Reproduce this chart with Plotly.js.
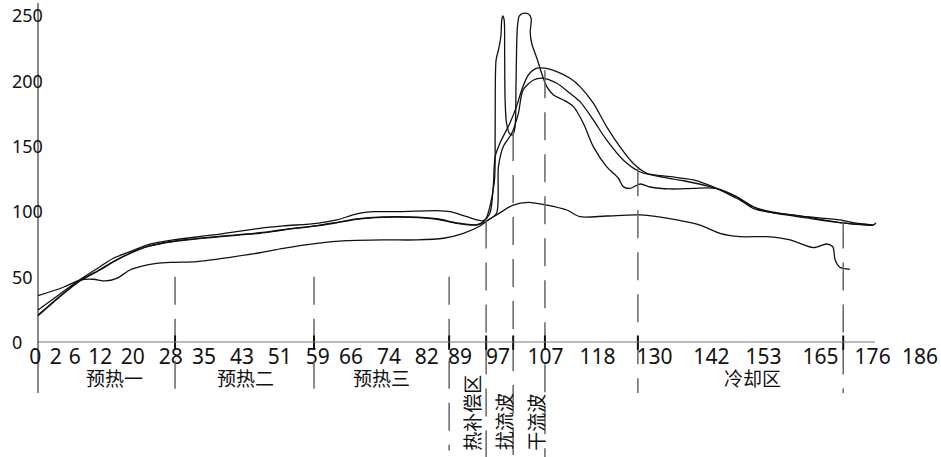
<!DOCTYPE html>
<html><head><meta charset="utf-8">
<script src="https://cdn.plot.ly/plotly-3.0.1.min.js"></script>
<style>html,body{margin:0;padding:0;background:#fff}#chart{width:941px;height:457px}</style>
</head><body><div id="chart"></div>
<script>
// Tick labels
const xTickVals = [0,2,6,12,20,28,35,43,51,59,66,74,82,89,97,107,118,130,142,153,165,176,186];
const yTickVals = [0,50,100,150,200,250];

// Curve A (lower profile)
const aX = [0,5.34,8.86,11.66,14.13,16.6,19.4,21.5,25.0,28.5,33.5,40.5,46.8,51.7,58.8,65.1,72.8,79.9,85.5,89.7,93.2,94.9,96.7,100.2,103.4,107.3,111.5,114.3,119.9,127.0,134.7,139.6,143.8,148.0,153.7,158.6,163.5,166.3,167.6,168.1,169.1,171.2];
const aY = [35.4,41.9,47.4,48.0,46.7,48.7,55.1,57.6,60.2,61.0,61.5,64.8,68.3,71.7,75.5,77.5,78.1,78.1,79.4,83.2,88.8,93.4,97.2,104.8,106.9,104.8,101.0,95.9,96.4,97.2,93.4,89.5,83.2,80.6,80.6,78.1,72.2,75.0,72.9,62.8,57.2,55.6];

// Curve B (upper smooth profile)
const bX = [0,4.43,8.86,13.07,15.88,19.4,22.9,28.5,37.0,46.8,51.7,58.8,63.0,67.2,70.7,76.3,84.1,86.9,90.4,93.9,95.3,96.0,96.4,97.4,99.5,100.9,102.0,103.4,105.2,106.9,109.4,112.2,114.3,117.1,119.9,122.7,125.5,128.4,133.3,138.2,143.1,147.3,150.8,155.0,162.1,169.1,171.9,176.1];
const bY = [24.5,36.2,47.8,57.6,64.1,69.1,74.2,78.1,81.9,87.0,88.8,90.8,93.4,98.0,99.7,99.7,100.5,99.7,95.9,92.8,98.7,118.9,141.8,152.1,167.4,180.1,192.9,204.3,209.5,209.5,206.9,201.8,195.4,182.7,164.8,149.5,136.8,129.1,126.5,124.0,117.6,110.0,103.5,99.3,95.9,93.4,91.3,89.5];

// Curve C (second smooth profile)
const cX = [0,4.43,8.86,13.07,15.88,19.4,22.9,28.5,37.0,46.8,51.7,58.8,62.3,67.2,72.8,78.4,84.1,88.3,92.5,95.0,96.7,97.1,98.1,99.9,101.3,102.3,104.5,106.6,109.4,112.2,114.3,117.1,119.9,123.4,126.9,131.1,136.1,141.7,146.6,150.8,153.7,162.1,169.1,176.1];
const cY = [20.1,34.1,46.7,55.1,61.2,67.7,72.7,76.8,80.1,83.2,85.7,88.8,90.8,93.9,95.4,95.4,93.9,90.8,89.5,93.4,98.5,134.2,149.5,159.7,175.0,192.9,200.5,201.8,198.0,190.3,183.9,169.9,154.6,139.3,130.3,126.5,123.4,118.8,112.5,102.3,99.7,95.7,91.3,89.5];

// Curve S (wave-solder double spike)
const sX = [0,4.43,8.86,13.07,15.88,19.4,22.9,28.5,37.0,46.8,51.7,58.8,62.3,67.2,72.8,78.4,84.1,88.3,92.5,94.3,96.2,96.4,96.6,97.1,97.6,97.8,98.0,98.3,98.4,98.5,98.8,99.4,100.1,100.6,100.8,101.1,101.5,102.3,103.4,104.0,103.9,103.8,104.1,105.2,106.2,107.3,108.7,110.8,112.9,115.0,117.1,119.9,122.4,123.4,124.9,127.0,129.1,133.3,138.2,143.1,147.3,150.8,153.7,162.1,169.1,176.1,176.7];
const sY = [20.6,34.5,47.0,55.5,61.6,68.0,73.0,77.1,80.4,83.6,86.0,89.1,91.1,94.2,95.8,95.8,94.3,91.2,89.8,93.4,121.7,159.9,215.8,223.5,233.6,246.4,249.5,246.4,223.5,185.2,167.4,159.7,158.4,164.8,198.0,241.3,249.5,251.5,251.0,247.7,241.3,237.5,228.6,217.1,205.6,195.4,189.0,185.2,180.1,167.4,149.5,134.2,125.3,118.9,117.6,120.9,118.6,117.1,117.6,117.6,111.2,103.5,99.7,94.9,91.3,89.5,91.1];

// Zone boundaries (x) and their dashed extent
const zoneX   = [28.9, 58.2, 86.7, 94.5, 100.2, 106.9, 126.5, 169.8];
const zoneTop = [50, 50, 50, 93, 160, 208, 133, 93];
const zoneBot = [-39, -39, -83, -88, -88, -88, -39, -39];

// Zone labels
const zoneNames  = ['预热一','预热二','预热三','冷却区'];
const zoneNameX  = [16.2, 43.7, 72.5, 150.6];
const vertNames  = ['热补偿区','扰流波','干流波'];
const vertNameX  = [91.7, 98.5, 105.2];
const vertNameY  = [-54.3, -61.2, -61.2];

const FONT = 'Noto Sans, Noto Sans CJK SC, sans-serif';
const NB = '\u00a0';
// crowded low-end labels get non-breaking-space padding so they spread out as in the reference
const padBefore = {2:3, 6:3, 12:2};
const padAfter  = {0:1};
const padLabel = v => NB.repeat(padBefore[v] || 0) + String(v) + NB.repeat(padAfter[v] || 0);

const line = {color:'#111', width:1.3, shape:'spline', smoothing:0.8};
const mk = (x,y)=>({x, y, type:'scatter', mode:'lines', line, hoverinfo:'skip', showlegend:false});
const traces = [mk(aX,aY), mk(bX,bY), mk(cX,cY), mk(sX,sY)];

const shapes = [];
zoneX.forEach((x,i)=>{
  shapes.push({type:'line', xref:'x', yref:'y', x0:x, x1:x, y0:zoneTop[i], y1:zoneBot[i],
    line:{color:'#666', width:1.5, dash:'28px,14px'}});
  shapes.push({type:'line', xref:'x', yref:'y', x0:x, x1:x, y0:-6, y1:5,
    line:{color:'#111', width:2}});
});
// axes lines
shapes.push({type:'line', xref:'x', yref:'y', x0:0, x1:176.5, y0:0, y1:0, line:{color:'#777', width:1}});
shapes.push({type:'line', xref:'x', yref:'y', x0:0, x1:0, y0:-39, y1:259.4, line:{color:'#111', width:1}});

const annotations = [];
yTickVals.forEach(v=>annotations.push({x:-5.9, y:v, xref:'x', yref:'y', text:String(v), showarrow:false,
  xanchor:'left', yanchor:'middle', font:{family:FONT, size:18, color:'#111'}}));
zoneNames.forEach((t,i)=>annotations.push({x:zoneNameX[i], y:-28.3, xref:'x', yref:'y', text:t, showarrow:false,
  xanchor:'center', yanchor:'middle', font:{family:FONT, size:19, color:'#111'}}));
vertNames.forEach((t,i)=>annotations.push({x:vertNameX[i], y:vertNameY[i], xref:'x', yref:'y', text:t, showarrow:false,
  textangle:-90, xanchor:'center', yanchor:'middle', font:{family:FONT, size:19, color:'#111'}}));

const layout = {
  width:941, height:457,
  margin:{l:0, r:0, t:0, b:0},
  paper_bgcolor:'#fff', plot_bgcolor:'#fff',
  showlegend:false,
  xaxis:{range:[-8.0135, 190.42], tickvals:xTickVals, ticktext:xTickVals.map(padLabel),
    tickangle:0, ticks:'', showgrid:false, zeroline:false, showline:false,
    anchor:'free', position:(457-342)/457, side:'bottom',
    tickfont:{family:FONT, size:21, color:'#111'}, fixedrange:true},
  yaxis:{range:[-88, 261.7], visible:false, showgrid:false, zeroline:false, fixedrange:true},
  shapes, annotations
};
Plotly.newPlot('chart', traces, layout, {staticPlot:true, displayModeBar:false});
</script></body></html>
